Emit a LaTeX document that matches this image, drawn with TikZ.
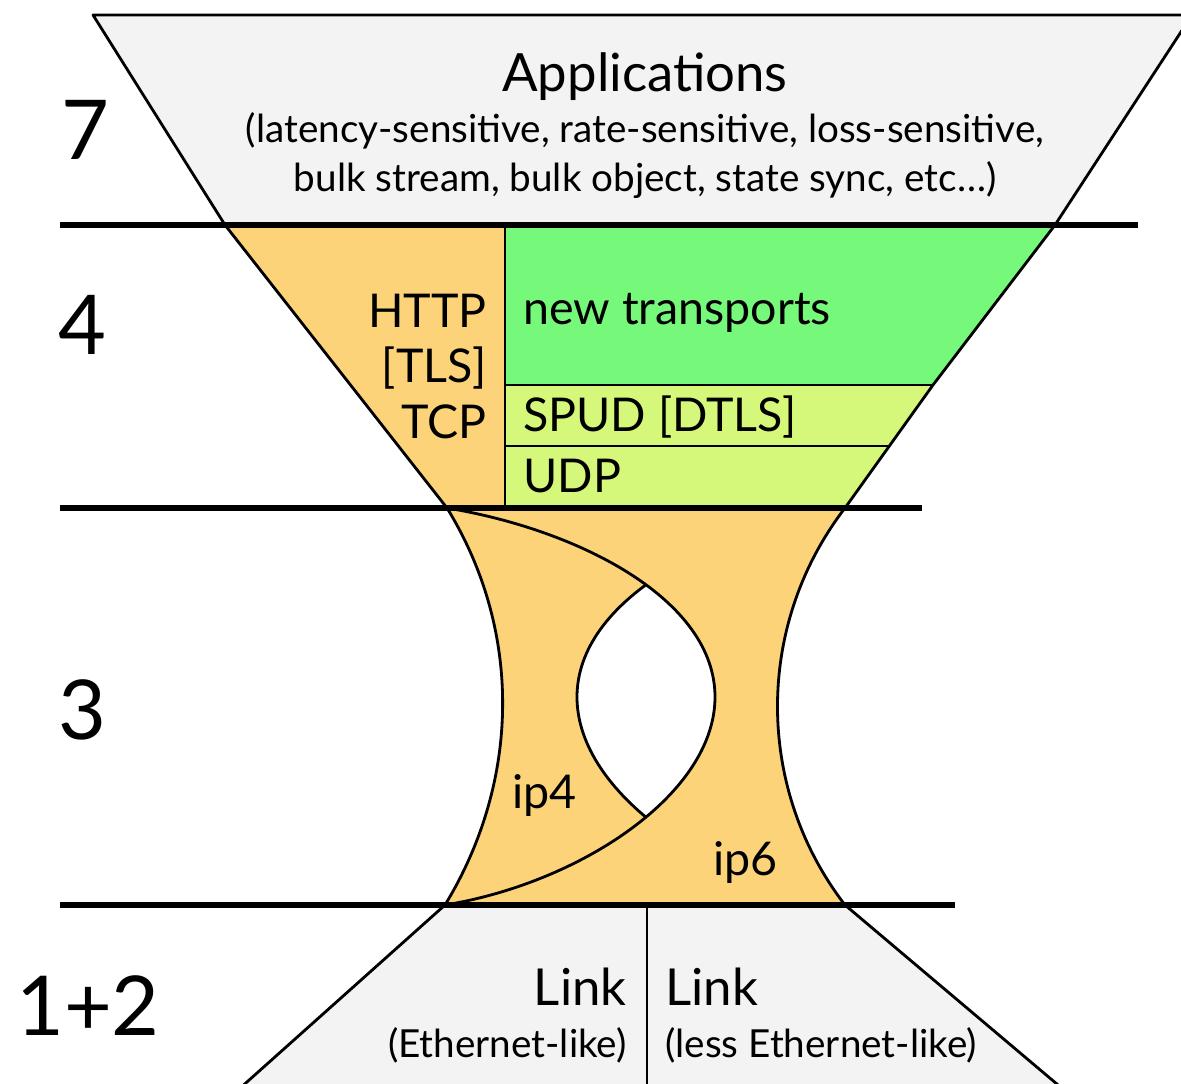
\documentclass[tikz,border=0pt]{standalone}
\usepackage{fontspec}
\setmainfont{Lato}
\usetikzlibrary{positioning}
\definecolor{HGGray}{HTML}{F3F3F3}
\definecolor{HGOrange}{HTML}{FDD37A}
\definecolor{HGGreen}{HTML}{76F87A}
\definecolor{HGLime}{HTML}{D5F87A}

\begin{document}
\begin{tikzpicture}[x=0.02cm,y=-0.02cm,line join=round,node distance=0mm]
  \tikzstyle{edge}=[draw=black,line width=1.6pt]
  \tikzstyle{layer}=[draw=black,line width=3pt]
  \tikzstyle{num}=[inner sep=0pt,font=\fontsize{47}{47}\selectfont]
  \tikzstyle{big}=[inner sep=0pt,font=\fontsize{26.5}{31.4}\selectfont]
  \tikzstyle{small}=[inner sep=0pt,font=\fontsize{22}{28.3}\selectfont]
  \tikzstyle{linkname}=[inner sep=0pt,font=\fontsize{29}{29}\selectfont]
  \useasboundingbox (0,0) rectangle (1181,1084);
  \clip (0,0) rectangle (1181,1084);
  \filldraw[edge,fill=HGGray] (93,15) -- (1192,15) -- (1055,225) -- (225,225) -- cycle;
  \fill[HGOrange] (225,225) -- (505,225) -- (505,508) -- (447,508) -- cycle;
  \fill[HGGreen] (505,225) -- (1055,225) -- (933,385) -- (505,385) -- cycle;
  \fill[HGLime] (505,385) -- (933,385) -- (845,508) -- (505,508) -- cycle;
  \draw[edge] (225,225) -- (447,508) (1055,225) -- (933,385) -- (845,508);
  \draw[edge] (505,225) -- (505,508) (505,385) -- (933,385) (505,446) -- (889,446);
  \fill[HGOrange] (447,508) .. controls (522,630) and (521,780) .. (445,905)
    -- (845,905) .. controls (755,788) and (755,625) .. (845,508) -- cycle;
  \begin{scope}
    \clip (447,508) .. controls (580,530) and (715,600) .. (715,697)
      .. controls (715,794) and (580,883) .. (445,905)
      .. controls (521,780) and (522,630) .. (447,508) -- cycle;
    \fill[white] (845,508) .. controls (712,530) and (577,600) .. (577,697)
      .. controls (577,794) and (712,883) .. (845,905) -- cycle;
    \draw[edge] (845,508) .. controls (712,530) and (577,600) .. (577,697)
      .. controls (577,794) and (712,883) .. (845,905);
  \end{scope}
  \draw[edge] (447,508) .. controls (580,530) and (715,600) .. (715,697)
    .. controls (715,794) and (580,883) .. (445,905);
  \draw[edge] (447,508) .. controls (522,630) and (521,780) .. (445,905);
  \draw[edge] (845,508) .. controls (755,625) and (755,788) .. (845,905);
  \filldraw[edge,fill=HGGray] (445,905) -- (845,905) -- (1064,1090) -- (238,1090) -- cycle;
  \draw[edge] (647,905) -- (647,1090);
  \draw[layer] (60,225) -- (1138,225);
  \draw[layer] (60,508) -- (922,508);
  \draw[layer] (60,905) -- (955,905);
  \node[big,anchor=base,font=\fontsize{30}{30}\selectfont] (app) at (645,92) {Applications};
  \node[small,anchor=base,align=center] (appsub) at (645,192)
    {(latency-sensitive, rate-sensitive, loss-sensitive,\\bulk stream, bulk object, state sync, etc…)};
  \node[big,anchor=north east,align=right] (tcp) at (487,294) {HTTP\\{}[TLS]\\TCP};
  \node[big,anchor=base west] (newtp) at (523,325) {new transports};
  \node[big,anchor=base west] (spud) at (523,432) {SPUD [DTLS]};
  \node[big,anchor=base west] (udp) at (523,493) {UDP};
  \node[big,anchor=base west] (ip4) at (512,808) {ip4};
  \node[big,anchor=base west] (ip6) at (713,875) {ip6};
  \node[linkname,anchor=base east] (link1) at (627,1005) {Link};
  \node[small,anchor=base east] (eth1) at (627,1057) {(Ethernet-like)};
  \node[linkname,anchor=base west] (link2) at (665,1005) {Link};
  \node[small,anchor=base west] (eth2) at (665,1057) {(less Ethernet-like)};
  \node[num,anchor=base] (l7) at (85,160) {7};
  \node[num,anchor=base] (l4) at (82,355) {4};
  \node[num,anchor=base] (l3) at (82,740) {3};
  \node[num,anchor=base] (l12) at (88,1035) {1+2};
\end{tikzpicture}
\end{document}
